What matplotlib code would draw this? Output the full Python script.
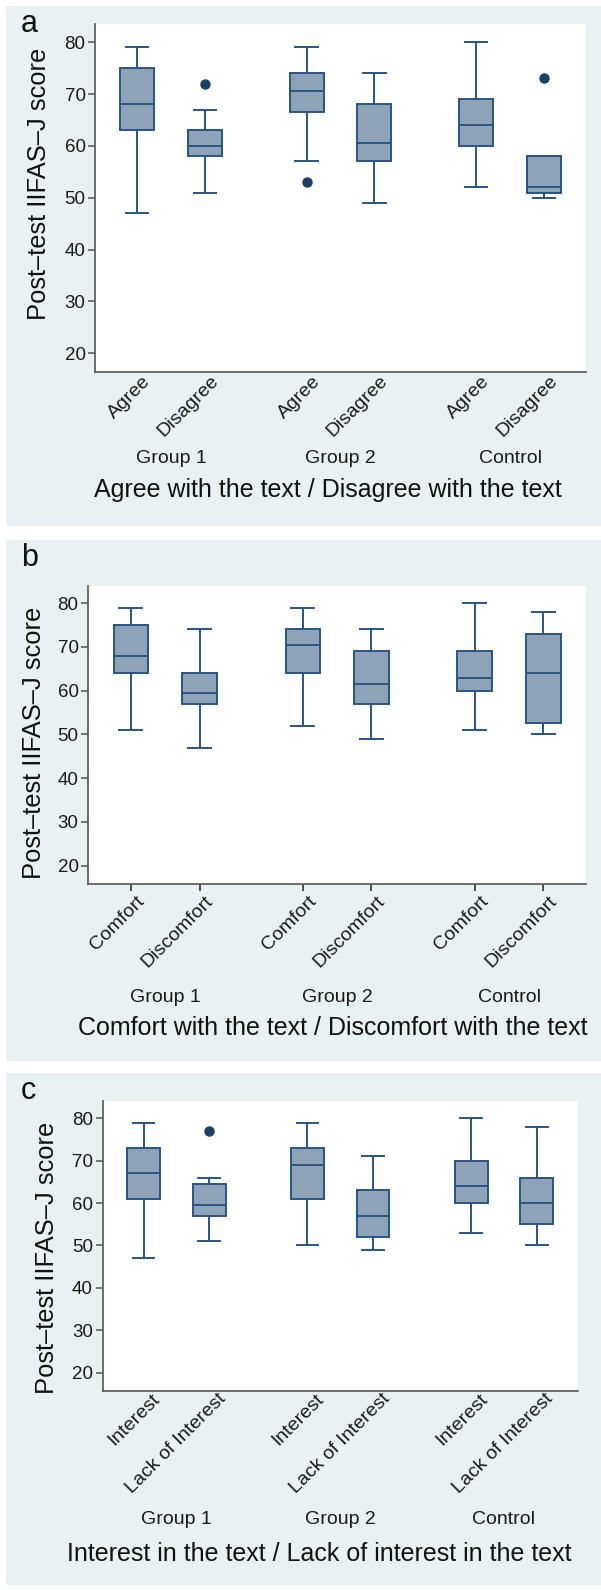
import matplotlib
matplotlib.use('Agg')
import matplotlib.pyplot as plt
from matplotlib.patches import Rectangle
from matplotlib.transforms import blended_transform_factory, ScaledTranslation

plt.rcParams['font.family'] = ['Liberation Sans', 'DejaVu Sans']

# --- DATA ---
group_names = ["Group 1", "Group 2", "Control"]
y_ticks = [20, 30, 40, 50, 60, 70, 80]
y_label = "Post\u2013test IIFAS\u2013J score"

# a: agree / disagree
a_cats = ["Agree", "Disagree"]
a_low = [47, 51, 57, 49, 52, 50]
a_q1 = [63, 58, 66.5, 57, 60, 51]
a_med = [68, 60, 70.5, 60.5, 64, 52]
a_q3 = [75, 63, 74, 68, 69, 58]
a_high = [79, 67, 79, 74, 80, 58]
a_out = [[], [72], [53], [], [], [73]]
a_title = "Agree with the text / Disagree with the text"

# b: comfort / discomfort
b_cats = ["Comfort", "Discomfort"]
b_low = [51, 47, 52, 49, 51, 50]
b_q1 = [64, 57, 64, 57, 60, 52.5]
b_med = [68, 59.5, 70.5, 61.5, 63, 64]
b_q3 = [75, 64, 74, 69, 69, 73]
b_high = [79, 74, 79, 74, 80, 78]
b_out = [[], [], [], [], [], []]
b_title = "Comfort with the text / Discomfort with the text"

# c: interest / lack of interest
c_cats = ["Interest", "Lack of Interest"]
c_low = [47, 51, 50, 49, 53, 50]
c_q1 = [61, 57, 61, 52, 60, 55]
c_med = [67, 59.5, 69, 57, 64, 60]
c_q3 = [73, 64.5, 73, 63, 70, 66]
c_high = [79, 66, 79, 71, 80, 78]
c_out = [[], [77], [], [], [], []]
c_title = "Interest in the text / Lack of interest in the text"

# --- STYLE ---
BG = '#e9f1f3'
FILL = '#8ea3b7'
EDGE = '#2a5483'
DOT = '#1b3f69'
SPINE = '#555555'
LW = 1.4

W, H = 601, 1590
fig = plt.figure(figsize=(W / 100, H / 100), dpi=100)
fig.patch.set_facecolor('white')

positions = [1, 2, 3.5, 4.5, 6, 7]
group_mid = [1.5, 4, 6.5]


def fx(x):
    return x / W


def fy(y):
    return 1 - y / H


# panel layout in pixels: bg top/bottom, axes l/r/t/b, y label (right edge, centre),
# group label baseline, title (centre, baseline), x tick length, category label offset
panels = [
    dict(letter='a', bg=(6, 526), ax=(95.3, 585.7, 24, 371.7), ylim=(16.45, 83.5),
         xlim=(0.385, 7.615), ylab=(51.5, 184), grp_y=463.3, title=(327.5, 496.7),
         ticklen=0, lab_off=(5, 1),
         data=(a_cats, a_low, a_q1, a_med, a_q3, a_high, a_out, a_title)),
    dict(letter='b', bg=(540, 1060.7), ax=(88.3, 585.7, 585.7, 884), ylim=(15.8, 84.0),
         xlim=(0.382, 7.615), ylab=(46.5, 743), grp_y=1001.7, title=(333, 1035),
         ticklen=5, lab_off=(5, 9),
         data=(b_cats, b_low, b_q1, b_med, b_q3, b_high, b_out, b_title)),
    dict(letter='c', bg=(1073.3, 1585), ax=(102.7, 577.7, 1100.7, 1390.7), ylim=(15.75, 84.15),
         xlim=(0.375, 7.625), ylab=(59, 1257.5), grp_y=1524, title=(318.8, 1560.7),
         ticklen=0, lab_off=(8, 0),
         data=(c_cats, c_low, c_q1, c_med, c_q3, c_high, c_out, c_title)),
]

for p in panels:
    cats, low, q1, med, q3, high, out, title = p['data']

    # panel background
    top, bot = p['bg']
    fig.patches.append(Rectangle((fx(6), fy(bot)), fx(601) - fx(6), fy(top) - fy(bot),
                                 transform=fig.transFigure, facecolor=BG, edgecolor='none', zorder=-10))

    l, r, t, b = p['ax']
    ax = fig.add_axes([fx(l), fy(b), fx(r) - fx(l), fy(t) - fy(b)])
    ax.set_zorder(1)
    ax.set_facecolor('white')

    stats = [dict(whislo=low[i], q1=q1[i], med=med[i], q3=q3[i], whishi=high[i], fliers=out[i])
             for i in range(len(low))]
    ax.bxp(stats, positions=positions, widths=0.5, capwidths=0.33, patch_artist=True,
           boxprops=dict(facecolor=FILL, edgecolor=EDGE, linewidth=LW),
           whiskerprops=dict(color=EDGE, linewidth=LW),
           capprops=dict(color=EDGE, linewidth=LW),
           medianprops=dict(color=EDGE, linewidth=LW),
           flierprops=dict(marker='o', markerfacecolor=DOT, markeredgecolor=DOT, markersize=6.5))

    ax.set_xlim(*p['xlim'])
    ax.set_ylim(*p['ylim'])
    ax.set_yticks(y_ticks)
    ax.set_xticks(positions, labels=[''] * len(positions))
    ax.tick_params(axis='y', labelsize=13.5, length=5, width=1.1, pad=2, color=SPINE, labelcolor='#1a1a1a')
    ax.tick_params(axis='x', length=p['ticklen'], width=1.1, color='#222222')
    for s in ['top', 'right']:
        ax.spines[s].set_visible(False)
    for s in ['left', 'bottom']:
        ax.spines[s].set_color(SPINE)
        ax.spines[s].set_linewidth(1.2)

    # rotated category labels
    dx, dy = p['lab_off']
    trans = blended_transform_factory(ax.transData, ax.transAxes) + \
        ScaledTranslation(dx / 100, -dy / 100, fig.dpi_scale_trans)
    for i, pos in enumerate(positions):
        ax.text(pos, 0, cats[i % 2], transform=trans, rotation=45, rotation_mode='anchor',
                ha='right', va='top', fontsize=14, color='#1a1a1a', clip_on=False)

    # group labels
    for gx, name in zip(group_mid, group_names):
        xpix = ax.transData.transform((gx, 0))[0]
        fig.text(xpix / W, fy(p['grp_y']), name, ha='center', va='baseline', fontsize=14, color='#1a1a1a')

    fig.text(fx(p['title'][0]), fy(p['title'][1]), title, ha='center', va='baseline', fontsize=18, color='#111111')
    fig.text(fx(p['ylab'][0]), fy(p['ylab'][1]), y_label, rotation=90, ha='right', va='center',
             fontsize=18.4, color='#111111')
    fig.text(fx(21), fy(top + 26), p['letter'], ha='left', va='baseline', fontsize=22, color='#111111')

fig.savefig('out.png', dpi=100, facecolor='white')
